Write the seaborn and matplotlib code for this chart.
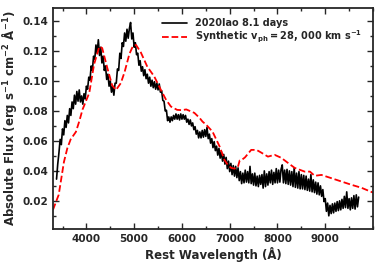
import numpy as np
import pandas as pd
import matplotlib
matplotlib.use("Agg")
import matplotlib.pyplot as plt
import seaborn as sns
from matplotlib.ticker import MultipleLocator

# --- DATA ---
# observed spectrum, sampled every 25 A from 3375 to 9700 A
obs_wave = np.arange(3375, 9701, 25)
obs_flux = [
    # 3375 - 4000
    0.0345, 0.0445, 0.0520, 0.0610, 0.0575, 0.0680, 0.0640, 0.0735, 0.0690, 0.0770,
    0.0720, 0.0815, 0.0770, 0.0860, 0.0815, 0.0905, 0.0845, 0.0930, 0.0865, 0.0940,
    0.0860, 0.0900, 0.0845, 0.0915, 0.0880, 0.0965,
    # 4025 - 4500
    0.0945, 0.1025, 0.1005, 0.1100, 0.1070, 0.1165, 0.1145, 0.1240, 0.1185, 0.1275,
    0.1170, 0.1225, 0.1120, 0.1165, 0.1070, 0.1100, 0.1010, 0.1045, 0.0965, 0.1000,
    # 4525 - 5000
    0.0925, 0.0965, 0.0905, 0.0985, 0.0985, 0.1080, 0.1070, 0.1185, 0.1150, 0.1255,
    0.1230, 0.1320, 0.1265, 0.1345, 0.1285, 0.1350, 0.1390, 0.1280, 0.1320, 0.1225,
    # 5025 - 5500
    0.1255, 0.1175, 0.1185, 0.1105, 0.1135, 0.1065, 0.1095, 0.1035, 0.1075, 0.1015,
    0.1045, 0.0985, 0.1025, 0.0965, 0.1005, 0.0955, 0.0995, 0.0945, 0.0985, 0.0940,
    # 5525 - 6000
    0.0980, 0.0925, 0.0935, 0.0870, 0.0865, 0.0800, 0.0805, 0.0735, 0.0760, 0.0725,
    0.0760, 0.0735, 0.0770, 0.0745, 0.0780, 0.0745, 0.0775, 0.0740, 0.0780, 0.0745,
    # 6025 - 6500
    0.0775, 0.0745, 0.0770, 0.0725, 0.0745, 0.0710, 0.0740, 0.0700, 0.0720, 0.0675,
    0.0695, 0.0645, 0.0670, 0.0620, 0.0660, 0.0620, 0.0670, 0.0625, 0.0675, 0.0630,
    # 6525 - 7000
    0.0690, 0.0615, 0.0645, 0.0585, 0.0615, 0.0555, 0.0595, 0.0535, 0.0565, 0.0505,
    0.0550, 0.0485, 0.0530, 0.0465, 0.0510, 0.0445, 0.0490, 0.0415, 0.0465, 0.0395,
    # 7025 - 7500
    0.0450, 0.0375, 0.0435, 0.0365, 0.0430, 0.0355, 0.0420, 0.0335, 0.0395, 0.0315,
    0.0385, 0.0320, 0.0405, 0.0325, 0.0395, 0.0320, 0.0430, 0.0315, 0.0380, 0.0305,
    # 7525 - 8000
    0.0385, 0.0300, 0.0365, 0.0295, 0.0370, 0.0310, 0.0375, 0.0285, 0.0400, 0.0295,
    0.0380, 0.0305, 0.0395, 0.0320, 0.0405, 0.0310, 0.0390, 0.0320, 0.0415, 0.0320,
    # 8025 - 8500
    0.0405, 0.0325, 0.0410, 0.0440, 0.0320, 0.0405, 0.0315, 0.0410, 0.0310, 0.0400,
    0.0305, 0.0395, 0.0295, 0.0420, 0.0290, 0.0385, 0.0285, 0.0395, 0.0280, 0.0375,
    # 8525 - 9000
    0.0280, 0.0370, 0.0275, 0.0365, 0.0270, 0.0345, 0.0265, 0.0375, 0.0260, 0.0340,
    0.0255, 0.0325, 0.0245, 0.0320, 0.0240, 0.0300, 0.0230, 0.0275, 0.0195, 0.0215,
    # 9025 - 9700
    0.0130, 0.0185, 0.0100, 0.0170, 0.0115, 0.0180, 0.0120, 0.0185, 0.0130, 0.0195,
    0.0135, 0.0200, 0.0140, 0.0210, 0.0150, 0.0230, 0.0155, 0.0260, 0.0150, 0.0215,
    0.0140, 0.0220, 0.0150, 0.0235, 0.0145, 0.0240, 0.0160, 0.0225,
]

# synthetic model spectrum
syn_wave = [3300, 3420, 3530, 3600, 3670, 3780, 3850, 3920, 4060, 4160,
            4270, 4330, 4435, 4540, 4620, 4720, 4800, 4900, 4970, 5040,
            5140, 5275, 5420, 5560, 5670, 5770, 5900, 6000, 6090, 6260,
            6370, 6430, 6510, 6640, 6790, 6890, 6960, 7030, 7100, 7170,
            7210, 7260, 7320, 7450, 7560, 7660, 7800, 7940, 8080, 8220,
            8360, 8570, 8680, 8780, 8920, 9130, 9340, 9550, 9760, 10000]
syn_flux = [0.0140, 0.0240, 0.0460, 0.0550, 0.0610, 0.0660, 0.0730, 0.0810, 0.0920, 0.1110,
            0.1229, 0.1220, 0.1090, 0.0970, 0.0940, 0.0985, 0.1060, 0.1180, 0.1230, 0.1240,
            0.1190, 0.1095, 0.1030, 0.0940, 0.0873, 0.0829, 0.0807, 0.0805, 0.0810, 0.0787,
            0.0753, 0.0729, 0.0707, 0.0662, 0.0562, 0.0473, 0.0440, 0.0420, 0.0415, 0.0425,
            0.0470, 0.0475, 0.0490, 0.0540, 0.0540, 0.0522, 0.0495, 0.0507, 0.0487, 0.0453,
            0.0420, 0.0395, 0.0395, 0.0367, 0.0373, 0.0351, 0.0329, 0.0307, 0.0287, 0.0255]

obs_label = "2020lao 8.1 days"
syn_label = r"Synthetic $v_{ph} = 28,\,000$ km s$^{-1}$"

# --- STYLE ---
sns.set_style("ticks")
plt.rcParams['font.family'] = ['DejaVu Sans']
plt.rcParams['font.weight'] = 'bold'
plt.rcParams['axes.labelweight'] = 'bold'
plt.rcParams['mathtext.default'] = 'bf'

# --- PLOT ---
fig = plt.figure(figsize=(3.81, 2.68), dpi=100)
ax = fig.add_axes([0.139, 0.146, 0.840, 0.826])

obs = pd.DataFrame({'wave': obs_wave, 'flux': obs_flux})
syn = pd.DataFrame({'wave': syn_wave, 'flux': syn_flux})

sns.lineplot(data=obs, x='wave', y='flux', color='black', lw=1.2,
             label=obs_label, ax=ax, errorbar=None)
sns.lineplot(data=syn, x='wave', y='flux', color='red', lw=1.3, ls='--',
             label=syn_label, ax=ax, errorbar=None)

ax.set_xlim(3300, 10000)
ax.set_ylim(0.0013, 0.149)
ax.xaxis.set_minor_locator(MultipleLocator(500))
ax.yaxis.set_major_locator(MultipleLocator(0.02))
ax.yaxis.set_minor_locator(MultipleLocator(0.01))
ax.set_xticks([4000, 5000, 6000, 7000, 8000, 9000])
ax.tick_params(which='both', direction='in', top=True, right=True,
               labelsize=7.5, width=1.0)
ax.tick_params(which='major', length=4)
ax.tick_params(which='minor', length=2)
for sp in ax.spines.values():
    sp.set_linewidth(1.3)

ax.set_xlabel("Rest Wavelength (Å)", fontsize=8.5, labelpad=2)
ax.set_ylabel(r"Absolute Flux (erg s$^{-1}$ cm$^{-2}$ Å$^{-1}$)", fontsize=8.5, labelpad=2)

ax.legend(loc='upper right', frameon=False, fontsize=7, handlelength=2.6,
          borderaxespad=0.7, labelspacing=0.1)

fig.savefig("out.png", dpi=100)
